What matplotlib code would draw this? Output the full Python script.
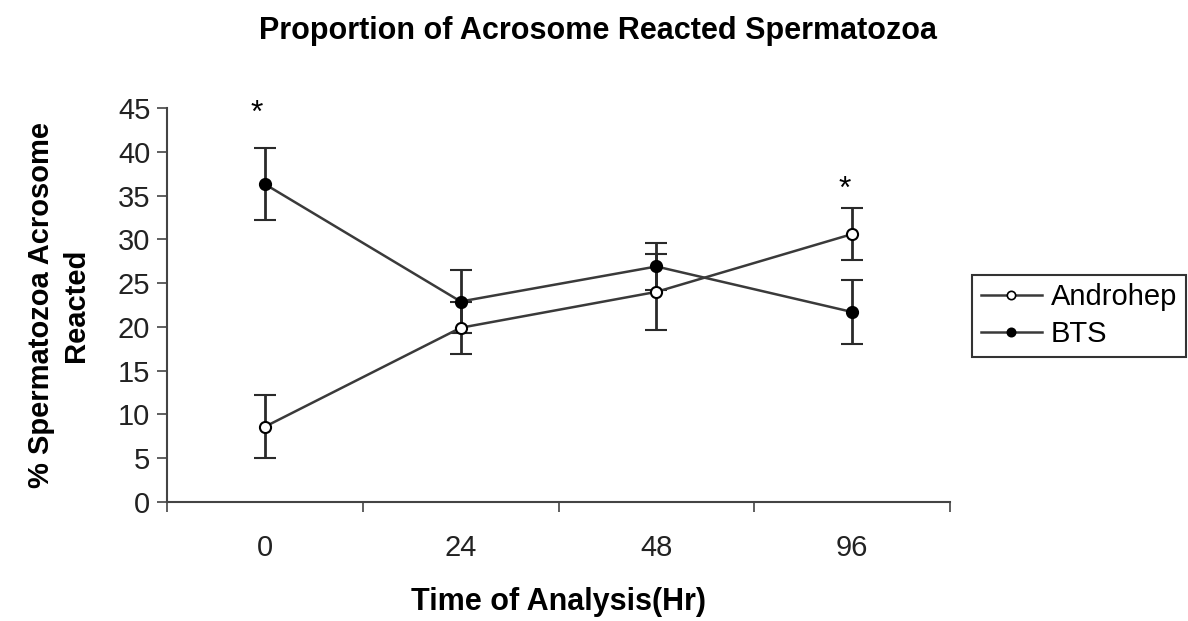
import numpy as np
import matplotlib.pyplot as plt
from matplotlib.lines import Line2D

# data
times = ["0", "24", "48", "96"]
androhep = [8.6, 19.9, 24.0, 30.6]
androhep_err = [3.6, 3.0, 4.3, 3.0]
bts = [36.3, 22.9, 26.9, 21.7]
bts_err = [4.1, 3.6, 2.7, 3.7]
star_pos = [0, 3]
star_y = [44.3, 35.6]


def main():
    plt.rcParams['font.family'] = ['Liberation Sans', 'DejaVu Sans']
    fig = plt.figure(figsize=(11.88, 6.21), dpi=100)
    ax = fig.add_axes([0.1406, 0.1916, 0.6591, 0.6345])

    x = np.arange(len(times))
    line_col = '#3a3a3a'

    ax.errorbar(x, androhep, yerr=androhep_err, color=line_col, lw=1.8,
                marker='o', ms=8, mfc='white', mec='black', mew=1.5,
                ecolor='#2a2a2a', elinewidth=2, capsize=8, capthick=2,
                zorder=3)
    ax.errorbar(x, bts, yerr=bts_err, color=line_col, lw=1.8,
                marker='o', ms=8, mfc='black', mec='black', mew=1.5,
                ecolor='#2a2a2a', elinewidth=2, capsize=8, capthick=2,
                zorder=3)

    for px, py in zip(star_pos, star_y):
        ax.text(px - 0.04, py, '*', ha='center', va='center', fontsize=23)

    ax.set_xlim(-0.5, 3.5)
    ax.set_ylim(0, 45)
    ax.set_yticks(np.arange(0, 46, 5))
    ax.set_xticks(x)
    ax.set_xticklabels(times)
    ax.set_xticks(np.arange(-0.5, 3.6, 1), minor=True)
    ax.tick_params(axis='x', which='major', length=0, pad=23, labelsize=21,
                   labelcolor='#222222')
    ax.tick_params(axis='x', which='minor', length=7, width=1.2,
                   direction='out', color='#444444')
    ax.tick_params(axis='y', length=7, width=1.2, direction='out',
                   labelsize=21, color='#444444', labelcolor='#222222', pad=5)

    for s in ['top', 'right']:
        ax.spines[s].set_visible(False)
    for s in ['left', 'bottom']:
        ax.spines[s].set_color('#444444')
        ax.spines[s].set_linewidth(1.5)

    ax.set_xlabel('Time of Analysis(Hr)', fontsize=22, fontweight='bold',
                  labelpad=18)
    ax.set_ylabel('% Spermatozoa Acrosome\nReacted', fontsize=21,
                  fontweight='bold', labelpad=20, linespacing=1.3)
    fig.suptitle('Proportion of Acrosome Reacted Spermatozoa', x=0.503,
                 y=0.975, fontsize=22, fontweight='bold')

    handles = [
        Line2D([], [], color=line_col, lw=1.8, marker='o', ms=6,
               mfc='white', mec='black', mew=1.2),
        Line2D([], [], color=line_col, lw=1.8, marker='o', ms=6,
               mfc='black', mec='black', mew=1.2),
    ]
    leg = ax.legend(handles, ['Androhep', 'BTS'], loc='center left',
                    bbox_to_anchor=(1.028, 0.473), fontsize=21, frameon=True,
                    fancybox=False, handlelength=2.1, handletextpad=0.3,
                    borderpad=0.3, labelspacing=0.3, borderaxespad=0)
    leg.get_frame().set_edgecolor('black')
    leg.get_frame().set_linewidth(1.5)

    fig.savefig('out.png', dpi=100)


if __name__ == "__main__":
    main()
